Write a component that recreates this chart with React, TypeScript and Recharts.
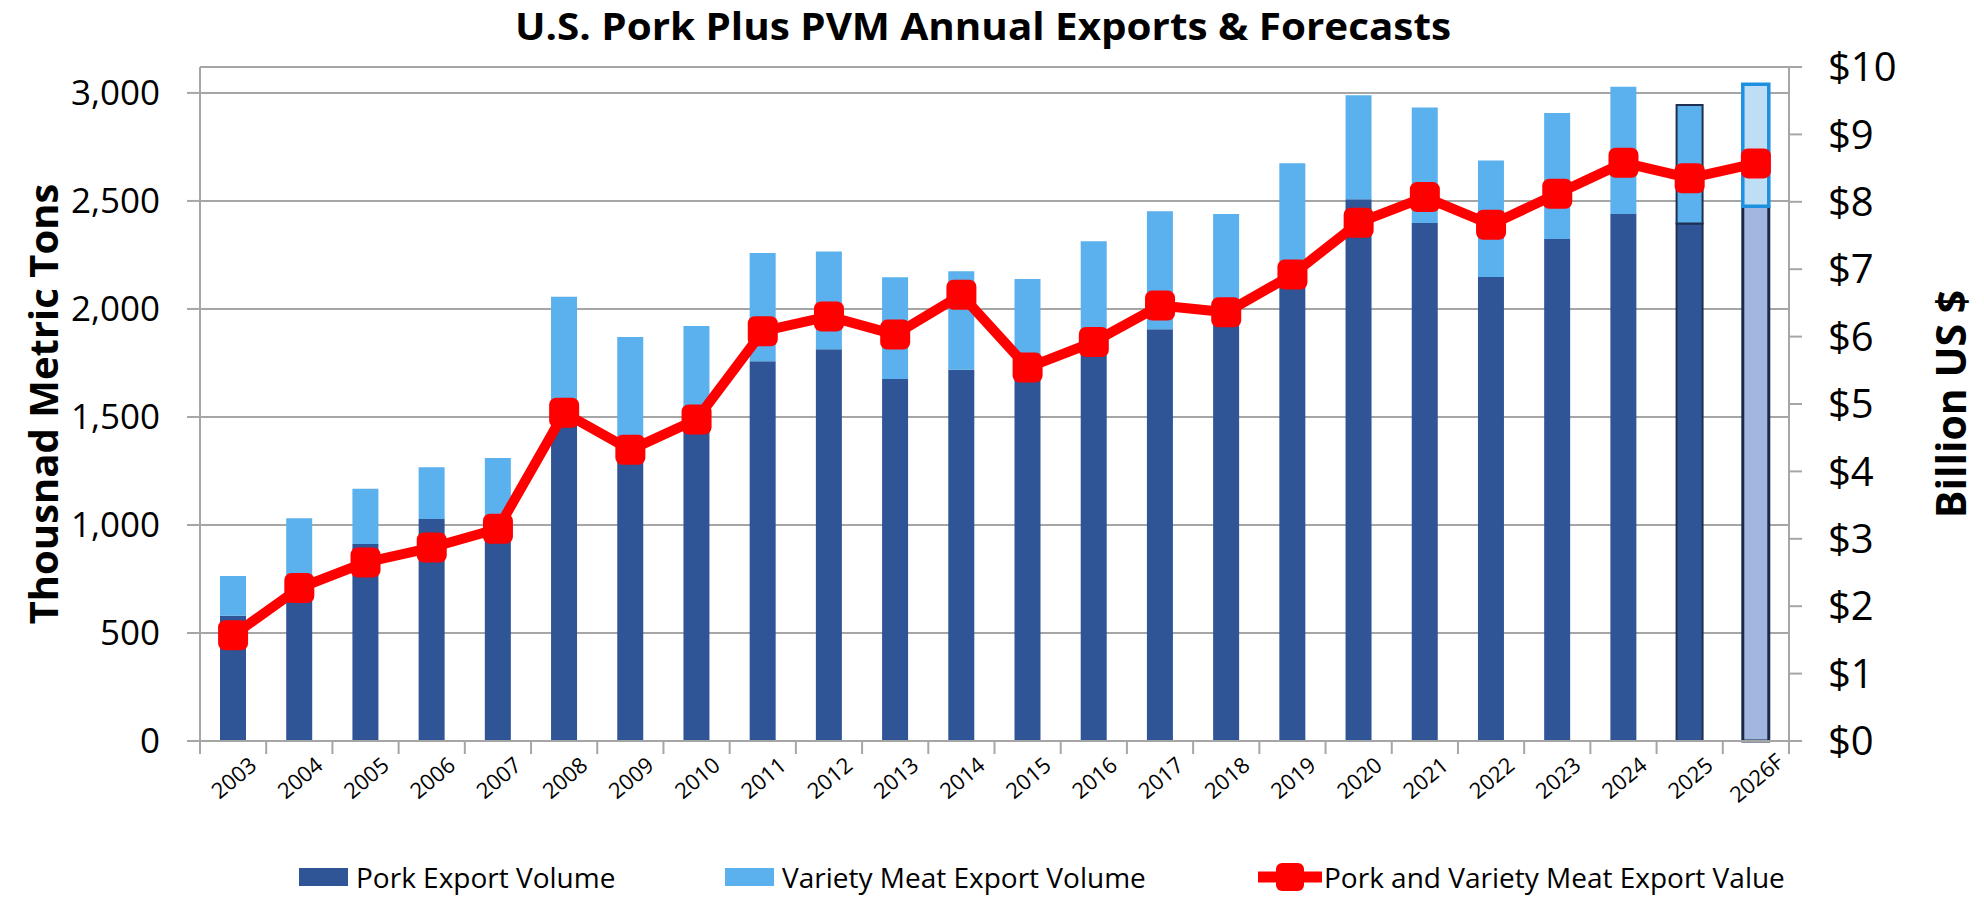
import React from "react";
import {
  ComposedChart,
  Bar,
  Line,
  XAxis,
  YAxis,
  CartesianGrid,
  Legend,
  Cell,
  Label,
} from "recharts";

const years = [
  "2003", "2004", "2005", "2006", "2007", "2008", "2009", "2010",
  "2011", "2012", "2013", "2014", "2015", "2016", "2017", "2018",
  "2019", "2020", "2021", "2022", "2023", "2024", "2025", "2026F",
];

// thousand metric tons
const porkVolume = [
  580, 700, 912, 1028, 1010, 1500, 1330, 1480,
  1758, 1813, 1676, 1718, 1700, 1800, 1906, 1930,
  2120, 2508, 2398, 2148, 2324, 2440, 2395, 2475,
];

const varietyVolume = [
  184, 331, 256, 239, 300, 556, 540, 441,
  501, 453, 471, 457, 439, 513, 546, 510,
  555, 481, 534, 539, 583, 588, 549, 565,
];

// billion US $
const exportValue = [
  1.57, 2.27, 2.65, 2.87, 3.15, 4.87, 4.32, 4.77,
  6.08, 6.3, 6.03, 6.62, 5.54, 5.92, 6.46, 6.36,
  6.92, 7.69, 8.07, 7.66, 8.12, 8.58, 8.35, 8.57,
];

const volumeTicks = [0, 500, 1000, 1500, 2000, 2500, 3000];
const valueTicks = [0, 1, 2, 3, 4, 5, 6, 7, 8, 9, 10];

const data = years.map((year, i) => ({
  year,
  pork: porkVolume[i],
  variety: varietyVolume[i],
  value: exportValue[i],
}));

const FONT = "'Open Sans', 'DejaVu Sans', sans-serif";
const PORK = "#2F5597";
const VARIETY = "#5AB1ED";
const RED = "#FF0000";
const GRID = "#A6A6A6";

const lastIdx = years.length - 1;
const prelimIdx = years.length - 2;

function porkCell(i: number) {
  if (i === lastIdx) return { fill: "#A2B7E0", stroke: "#1A2A48", strokeWidth: 3 };
  if (i === prelimIdx) return { fill: PORK, stroke: "#1F2F4F", strokeWidth: 2 };
  return { fill: PORK, stroke: "none", strokeWidth: 0 };
}

function varietyCell(i: number) {
  if (i === lastIdx) return { fill: "#BEDEF6", stroke: "#1E90E0", strokeWidth: 3.5 };
  if (i === prelimIdx) return { fill: VARIETY, stroke: "#1F2F4F", strokeWidth: 2 };
  return { fill: VARIETY, stroke: "none", strokeWidth: 0 };
}

const ValueDot = (props: any) => {
  const { cx, cy, index } = props;
  if (cx == null || cy == null) return null;
  return (
    <rect key={`dot-${index}`} x={cx - 15} y={cy - 15} width={30} height={30} rx={7} fill={RED} />
  );
};

const YearTick = (props: any) => {
  const { x, y, payload, width, index } = props;
  const band = width / years.length;
  const ly = y + 36;
  return (
    <g>
      <line x1={x - band / 2} x2={x - band / 2} y1={y} y2={y + 13} stroke={GRID} strokeWidth={2} />
      {index === lastIdx && (
        <line x1={x + band / 2} x2={x + band / 2} y1={y} y2={y + 13} stroke={GRID} strokeWidth={2} />
      )}
      <text
        x={x}
        y={ly}
        transform={`rotate(-40, ${x}, ${ly})`}
        textAnchor="middle"
        dominantBaseline="central"
        fontSize={22}
        fontFamily={FONT}
        fill="#000"
      >
        {payload.value}
      </text>
    </g>
  );
};

const legendItems = [
  { label: "Pork Export Volume", kind: "bar", color: PORK, left: 299 },
  { label: "Variety Meat Export Volume", kind: "bar", color: VARIETY, left: 725 },
  { label: "Pork and Variety Meat Export Value", kind: "line", color: RED, left: 1258 },
];

const renderLegend = () => (
  <div style={{ position: "relative", width: 1984, height: 42, fontFamily: FONT }}>
    {legendItems.map((item) => (
      <div
        key={item.label}
        style={{
          position: "absolute",
          left: item.left,
          top: 0,
          height: 42,
          display: "flex",
          alignItems: "center",
          whiteSpace: "nowrap",
        }}
      >
        {item.kind === "bar" ? (
          <span style={{ display: "inline-block", width: 49, height: 18, background: item.color, marginRight: 8 }} />
        ) : (
          <svg width={64} height={30} style={{ marginRight: 2 }}>
            <line x1={0} x2={64} y1={15} y2={15} stroke={RED} strokeWidth={11} />
            <rect x={18} y={1} width={28} height={28} rx={6} fill={RED} />
          </svg>
        )}
        <span style={{ fontSize: 28, color: "#000" }}>{item.label}</span>
      </div>
    ))}
  </div>
);

export default function App() {
  return (
    <div style={{ position: "absolute", left: 0, top: 0, width: 1984, height: 900, background: "#fff" }}>
      <svg width={1984} height={60} style={{ position: "absolute", left: 0, top: 0 }}>
        <text
          x={983}
          y={40}
          textAnchor="middle"
          fontSize={38}
          fontWeight={700}
          fontFamily={FONT}
          textLength={936}
          lengthAdjust="spacingAndGlyphs"
          fill="#000"
        >
          U.S. Pork Plus PVM Annual Exports &amp; Forecasts
        </text>
      </svg>
      <ComposedChart
        width={1984}
        height={900}
        data={data}
        margin={{ top: 67, right: 0, bottom: 0, left: 0 }}
        barCategoryGap="30%"
      >
        <CartesianGrid yAxisId="left" vertical={false} stroke={GRID} strokeWidth={2} />
        <XAxis
          dataKey="year"
          height={159}
          interval={0}
          tickLine={false}
          tickSize={0}
          tickMargin={0}
          axisLine={{ stroke: GRID, strokeWidth: 2 }}
          tick={<YearTick />}
        />
        <YAxis
          yAxisId="left"
          domain={[0, 3120]}
          ticks={volumeTicks}
          width={200}
          tickSize={13}
          tickMargin={27}
          axisLine={{ stroke: GRID, strokeWidth: 2 }}
          tickLine={{ stroke: GRID, strokeWidth: 2 }}
          tick={{ fontSize: 35, fill: "#000", fontFamily: FONT }}
          tickFormatter={(v: number) => v.toLocaleString("en-US")}
        >
          <Label
            content={({ viewBox }: any) => {
              const cx = viewBox.x + 42;
              const cy = viewBox.y + viewBox.height / 2;
              return (
                <text
                  x={cx}
                  y={cy}
                  transform={`rotate(-90, ${cx}, ${cy})`}
                  textAnchor="middle"
                  dominantBaseline="central"
                  fontSize={40}
                  fontWeight={700}
                  fontFamily={FONT}
                  fill="#000"
                >
                  Thousnad Metric Tons
                </text>
              );
            }}
          />
        </YAxis>
        <YAxis
          yAxisId="right"
          orientation="right"
          domain={[0, 10]}
          ticks={valueTicks}
          width={195}
          tickSize={13}
          tickMargin={26}
          axisLine={{ stroke: GRID, strokeWidth: 2 }}
          tickLine={{ stroke: GRID, strokeWidth: 2 }}
          tick={{ fontSize: 40, fill: "#000", fontFamily: FONT }}
          tickFormatter={(v: number) => `$${v}`}
        >
          <Label
            content={({ viewBox }: any) => {
              const cx = viewBox.x + 161;
              const cy = viewBox.y + viewBox.height / 2;
              return (
                <text
                  x={cx}
                  y={cy}
                  transform={`rotate(-90, ${cx}, ${cy})`}
                  textAnchor="middle"
                  dominantBaseline="central"
                  fontSize={41}
                  fontWeight={700}
                  fontFamily={FONT}
                  fill="#000"
                >
                  Billion US $
                </text>
              );
            }}
          />
        </YAxis>
        <Legend
          verticalAlign="middle"
          align="center"
          layout="horizontal"
          wrapperStyle={{ top: 856, left: 0, width: 1984, height: 42 }}
          content={renderLegend}
        />
        <Bar yAxisId="left" dataKey="pork" stackId="vol" barSize={26} isAnimationActive={false}>
          {data.map((d, i) => (
            <Cell key={`pork-${d.year}`} {...porkCell(i)} />
          ))}
        </Bar>
        <Bar yAxisId="left" dataKey="variety" stackId="vol" barSize={26} isAnimationActive={false}>
          {data.map((d, i) => (
            <Cell key={`var-${d.year}`} {...varietyCell(i)} />
          ))}
        </Bar>
        <Line
          yAxisId="right"
          dataKey="value"
          stroke={RED}
          strokeWidth={10}
          strokeLinejoin="round"
          dot={ValueDot}
          activeDot={false}
          isAnimationActive={false}
        />
      </ComposedChart>
    </div>
  );
}
